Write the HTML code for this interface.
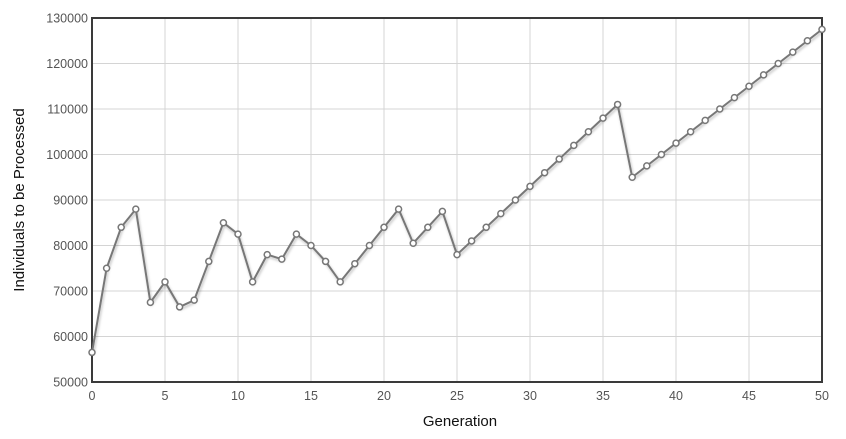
<!DOCTYPE html>
<html><head><meta charset="utf-8"><style>
body{margin:0;background:#fff;width:846px;height:439px;overflow:hidden}
svg{display:block;font-family:"Liberation Sans",sans-serif}
</style></head><body>
<svg id="chart" width="846" height="439">
<defs><filter id="sh" x="-5%" y="-5%" width="110%" height="120%"><feDropShadow dx="1" dy="2" stdDeviation="1.2" flood-color="#000" flood-opacity="0.25"/></filter></defs>
<g id="grid"></g>
<g id="axes"></g>
<g id="series"></g>
<text x="460" y="426" text-anchor="middle" font-size="15" fill="#111">Generation</text>
<text transform="translate(24,200) rotate(-90)" text-anchor="middle" font-size="15" fill="#111">Individuals to be Processed</text>
</svg>
<script>
const generations=[0,1,2,3,4,5,6,7,8,9,10,11,12,13,14,15,16,17,18,19,20,21,22,23,24,25,26,27,28,29,30,31,32,33,34,35,36,37,38,39,40,41,42,43,44,45,46,47,48,49,50];
const individuals=[56500,75000,84000,88000,67500,72000,66500,68000,76500,85000,82500,72000,78000,77000,82500,80000,76500,72000,76000,80000,84000,88000,80500,84000,87500,78000,81000,84000,87000,90000,93000,96000,99000,102000,105000,108000,111000,95000,97500,100000,102500,105000,107500,110000,112500,115000,117500,120000,122500,125000,127500];
const xTicks=[0,5,10,15,20,25,30,35,40,45,50];
const yTicks=[50000,60000,70000,80000,90000,100000,110000,120000,130000];
const L=92,R=822,T=18,B=382;
const NS="http://www.w3.org/2000/svg";
const xs=v=>L+(v-0)/(50-0)*(R-L);
const ys=v=>B-(v-50000)/(130000-50000)*(B-T);
function mk(tag,attrs,parent){const e=document.createElementNS(NS,tag);for(const k in attrs)e.setAttribute(k,attrs[k]);parent.appendChild(e);return e;}
const grid=document.getElementById('grid'),axes=document.getElementById('axes'),series=document.getElementById('series');
yTicks.forEach(v=>{
 const l=mk('line',{x1:L,x2:R,y1:ys(v),y2:ys(v),stroke:'#d4d4d4','stroke-width':1},grid);
 
 
 const t=mk('text',{x:L-4,y:ys(v)+4.5,'text-anchor':'end','font-size':12.5,fill:'#555'},axes);
 t.textContent=v;
 
 
});
xTicks.forEach(v=>{
 const l=mk('line',{x1:xs(v),x2:xs(v),y1:T,y2:B,stroke:'#d4d4d4','stroke-width':1},grid);
 
 
 const t=mk('text',{x:xs(v),y:B+18,'text-anchor':'middle','font-size':12.5,fill:'#555'},axes);
 t.textContent=v;
 
 
});
const frame=mk('rect',{x:L,y:T,width:R-L,height:B-T,fill:'none',stroke:'#3a3a3a','stroke-width':2},axes);


const pts=generations.map((g,i)=>xs(g)+','+ys(individuals[i])).join(' ');
const line=mk('polyline',{points:pts,fill:'none',stroke:'#777','stroke-width':2,filter:'url(#sh)'},series);


generations.forEach((g,i)=>{
 const c=mk('circle',{cx:xs(g),cy:ys(individuals[i]),r:3,fill:'#fff',stroke:'#777','stroke-width':1.5},series);
 
 
});
</script>
</body></html>
